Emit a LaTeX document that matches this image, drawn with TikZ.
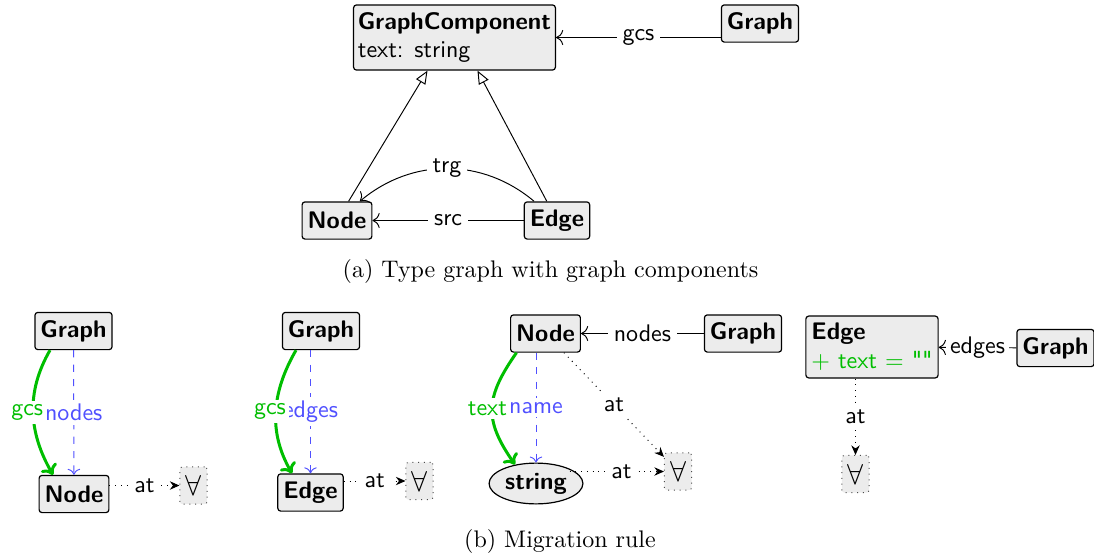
\documentclass[tikz,border=0pt]{standalone}
\usepackage{fontspec}
\newfontfamily\plainquotesf{lmsans10-regular.otf}[Ligatures=TeXOff]
\usetikzlibrary{arrows.meta,calc,shapes.geometric}
\definecolor{mygreen}{RGB}{0,190,0}
\definecolor{myblue}{RGB}{80,80,255}
\begin{document}
\begin{tikzpicture}[x=0.41667pt,y=-0.41667pt,
 cls/.style={draw,fill=gray!15,rounded corners=1.2pt,font=\sffamily\bfseries,minimum height=15.5pt,inner xsep=2.3pt,inner ysep=3pt,line width=0.5pt},
 lbl/.style={fill=white,inner sep=2.5pt,font=\sffamily},
 fa/.style={draw=black!70,dotted,fill=gray!15,rounded corners=1pt,minimum width=11.3pt,minimum height=15.5pt,inner sep=0pt,font=\large},
 assoc/.style={-{To[length=3pt]}},
 inh/.style={-{Triangle[open,length=5.5pt,width=4.5pt]}},
 mig/.style={mygreen,line width=1.25pt,-{To[length=4pt,width=7.5pt]}},
 del/.style={myblue,dashed,-{To}},
 atl/.style={dotted,-{Stealth[length=4pt,width=3.5pt]}}
]
\useasboundingbox (0,0) rectangle (1094,559);

% (a) type graph
\node[cls,align=left,inner xsep=1.8pt] (gc) at (454.5,37.5) {GraphComponent\\\mdseries text: string};
\node[cls] (tg) at (760,23.5) {Graph};
\node[cls] (tn) at (337,220.5) {Node};
\node[cls] (te) at (557,220.5) {Edge};
\draw[assoc] (tg.west |- gc) -- node[lbl]{gcs} (gc);
\draw[assoc] (te) -- node[lbl]{src} (tn);
\draw[assoc] (te) to[bend right=40] node[lbl]{trg} (tn);
\draw[inh] (tn) -- ($(gc.south)+(-27,0)$);
\draw[inh] (te) -- ($(gc.south)+(23,0)$);
\node (capa) at (550.5,271) {(a)\ Type graph with graph components};

% (b) panel 1
\node[cls] (g1) at (73.5,331) {Graph};
\node[cls] (n1) at (74,494) {Node};
\node[fa] (f1) at (193.5,485.5) {$\forall$};
\draw[del] (g1) -- node[lbl,inner sep=1.5pt,text=myblue]{nodes} (n1);
\draw[mig] ($(g1.south)+(-23.5,0)$) to[out=240,in=120] node[lbl,inner sep=1.5pt,text=mygreen,xshift=-2.5pt]{gcs} ($(n1.north)+(-21,0)$);
\draw[atl] (n1.east |- f1) -- node[lbl]{at} (f1);

% panel 2
\node[cls] (g2) at (321,331) {Graph};
\node[cls] (e2) at (310.5,492.5) {Edge};
\node[fa] (f2) at (419.5,481) {$\forall$};
\draw[del] (e2 |- g2.south) -- node[lbl,inner sep=1.5pt,text=myblue]{edges} (e2);
\draw[mig] ($(g2.south)+(-25,0)$) to[out=240,in=120] node[lbl,inner sep=1.5pt,text=mygreen,xshift=-2.5pt]{gcs} ($(e2.north)+(-18.5,0)$);
\draw[atl] (e2.east |- f2) -- node[lbl]{at} (f2);

% panel 3
\node[cls] (n3) at (545.5,333.5) {Node};
\node[cls] (g3) at (743,333.5) {Graph};
\node[cls,ellipse,inner sep=1pt,minimum width=38.3pt,minimum height=17pt] (st) at (536,483.5) {string};
\node[fa] (f3) at (678,471.5) {$\forall$};
\draw[assoc] (g3) -- node[lbl]{nodes} (n3);
\draw[del] (st |- n3.south) -- node[lbl,inner sep=1.5pt,text=myblue]{name} (st);
\draw[mig] ($(n3.south)+(-29,0)$) to[out=235,in=125,looseness=1.25] node[lbl,inner sep=1.5pt,text=mygreen,xshift=-2pt]{text} ($(st.north)+(-21,2)$);
\draw[atl] (n3) -- node[lbl]{at} (f3);
\draw[atl] (st.north east |- f3) -- node[lbl,pos=0.55]{at} (f3);

% panel 4
\node[cls,align=left] (e4) at (872,347) {Edge\\\mdseries\color{mygreen}$+$ text $=$ {\plainquotesf""}};
\node[cls] (g4) at (1055.5,348) {Graph};
\node[fa] (f4) at (855.5,474) {$\forall$};
\draw[assoc] (g4) -- node[lbl,inner sep=1.5pt]{edges} (e4);
\draw[atl] (f4 |- e4.south) -- node[lbl]{at} (f4);

\node (capb) at (560,541) {(b)\ Migration rule};
\end{tikzpicture}
\end{document}
